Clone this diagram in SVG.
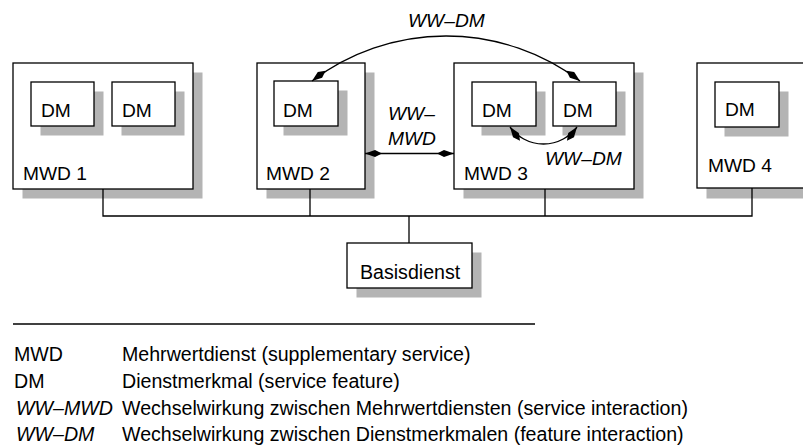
<svg xmlns="http://www.w3.org/2000/svg" width="803" height="445" viewBox="0 0 803 445">
  <style>
    text { font-family: "Liberation Sans", Arial, Helvetica, sans-serif; font-size: 19.2px; fill: #000; }
    .it { font-style: italic; }
    .lg { font-size: 19.6px; }
    .box { fill: #fff; stroke: #000; stroke-width: 1.3; }
    .shadow { fill: #b4b4b4; stroke: none; }
    .line { fill: none; stroke: #000; stroke-width: 1.3; }
  </style>
  <defs>
    <marker id="diamond" markerUnits="userSpaceOnUse" markerWidth="20" markerHeight="10" refX="0" refY="0" viewBox="-18 -5 20 10" orient="auto-start-reverse" overflow="visible">
      <path d="M0,0 L-10,-3.6 L-17,0 L-10,3.6 Z" fill="#000"/>
    </marker>
  </defs>

  <rect width="803" height="445" fill="#fff"/>

  <g id="mwd1">
    <rect class="shadow" x="22.5" y="72.5" width="180" height="126"/>
    <rect class="box" x="13" y="63" width="180" height="126"/>
    <g id="mwd1-dm1">
      <rect class="shadow" x="40.5" y="91.5" width="63" height="44"/>
      <rect class="box" x="31" y="82" width="63" height="44"/>
      <text x="41" y="117">DM</text>
    </g>
    <g id="mwd1-dm2">
      <rect class="shadow" x="121.5" y="91.5" width="63" height="44"/>
      <rect class="box" x="112" y="82" width="63" height="44"/>
      <text x="122" y="117">DM</text>
    </g>
    <text x="23" y="180">MWD 1</text>
  </g>

  <g id="mwd2">
    <rect class="shadow" x="266.5" y="72.5" width="108" height="126"/>
    <rect class="box" x="257" y="63" width="108" height="126"/>
    <g id="mwd2-dm1">
      <rect class="shadow" x="283.5" y="90.5" width="64" height="45"/>
      <rect class="box" x="274" y="81" width="64" height="45"/>
      <text x="283" y="117">DM</text>
    </g>
    <text x="266" y="180">MWD 2</text>
  </g>

  <g id="mwd3">
    <rect class="shadow" x="463.5" y="72.5" width="180" height="126"/>
    <rect class="box" x="454" y="63" width="180" height="126"/>
    <g id="mwd3-dm1">
      <rect class="shadow" x="481.5" y="91.5" width="64" height="44"/>
      <rect class="box" x="472" y="82" width="64" height="44"/>
      <text x="482" y="117">DM</text>
    </g>
    <g id="mwd3-dm2">
      <rect class="shadow" x="562.5" y="91.5" width="63" height="44"/>
      <rect class="box" x="553" y="82" width="63" height="44"/>
      <text x="563" y="117">DM</text>
    </g>
    <text x="464" y="180">MWD 3</text>
  </g>

  <g id="mwd4">
    <rect class="shadow" x="706.5" y="72.5" width="180" height="126"/>
    <rect class="box" x="697" y="63" width="180" height="125"/>
    <g id="mwd4-dm1">
      <rect class="shadow" x="724.5" y="91.5" width="64" height="45"/>
      <rect class="box" x="715" y="82" width="64" height="45"/>
      <text x="725" y="116">DM</text>
    </g>
    <text x="708" y="172">MWD 4</text>
  </g>

  <g id="basisdienst">
    <rect class="shadow" x="356.5" y="252.5" width="125" height="45"/>
    <rect class="box" x="347" y="243" width="125" height="45"/>
    <text class="lg" x="360" y="279">Basisdienst</text>
  </g>

  <!-- bus and interaction connectors, drawn over the boxes -->
  <g id="connectors">
    <path class="line" d="M103,189 V216 H752 V188"/>
    <path class="line" d="M310,189 V216"/>
    <path class="line" d="M545,189 V216"/>
    <path class="line" d="M409,216 V243"/>
    <!-- WW-MWD between MWD 2 and MWD 3 -->
    <path class="line" d="M365,153.5 H454" marker-start="url(#diamond)" marker-end="url(#diamond)"/>
    <!-- WW-DM across services -->
    <path class="line" d="M312,81 A222,222 0 0 1 580,81" marker-start="url(#diamond)" marker-end="url(#diamond)"/>
    <!-- WW-DM inside MWD 3 -->
    <path class="line" d="M510,127 A41.5,41.5 0 0 0 577,127" marker-start="url(#diamond)" marker-end="url(#diamond)"/>
  </g>

  <!-- interaction labels -->
  <g id="labels">
    <text class="it" x="408" y="27">WW–DM</text>
    <text class="it" x="388" y="120">WW–</text>
    <text class="it" x="388" y="145">MWD</text>
    <text class="it" x="545" y="165">WW–DM</text>
  </g>

  <!-- legend -->
  <g id="legend" class="lg">
    <path class="line" d="M13,324 H535"/>
    <text class="lg" x="14" y="361">MWD</text>
    <text class="lg" x="122" y="361">Mehrwertdienst (supplementary service)</text>
    <text class="lg" x="14" y="388">DM</text>
    <text class="lg" x="122" y="388">Dienstmerkmal (service feature)</text>
    <text class="lg it" x="16" y="415">WW–MWD</text>
    <text class="lg" x="122" y="415">Wechselwirkung zwischen Mehrwertdiensten (service interaction)</text>
    <text class="lg it" x="16" y="441">WW–DM</text>
    <text class="lg" x="122" y="441">Wechselwirkung zwischen Dienstmerkmalen (feature interaction)</text>
  </g>
</svg>
